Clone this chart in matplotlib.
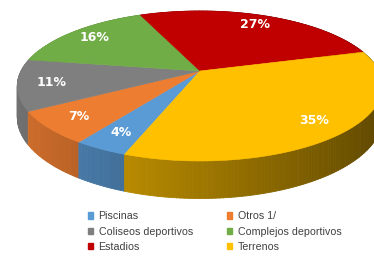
import numpy as np
import matplotlib
matplotlib.use("Agg")
import matplotlib.pyplot as plt
import matplotlib.patches as mpatches
from matplotlib.collections import PolyCollection

labels = ["Piscinas", "Otros 1/", "Coliseos deportivos", "Complejos deportivos", "Estadios", "Terrenos"]
shares = [4, 7, 11, 16, 27, 35]
colors = ["#5B9BD5", "#ED7D31", "#7F7F7F", "#70AD47", "#C00000", "#FFC000"]

# simple perspective camera for the 3-D disc (screen pixels)
CX, CY = 200, 71      # apex of the pie on screen
RX, RY = 179, 72      # half width / half height of the top face
F = 5.0               # perspective strength
DEPTH = 30            # thickness


def proj(u, v, h=0.0):
    s = F / (F + v)
    return CX + RX * u * s, CY - RY * v * s + DEPTH * h * s


def shade(hex_color, u):
    # lighter on the left, darker on the right like the Excel bevel
    f = 0.625 - 0.279 * u
    rgb = np.array(matplotlib.colors.to_rgb(hex_color))
    return tuple(np.clip(rgb * f, 0, 1))


fig = plt.figure(figsize=(3.74, 2.59), dpi=100)
ax = fig.add_axes([0, 0, 1, 1])

wedges, _, autotexts = ax.pie(shares, colors=colors, startangle=-110, counterclock=False,
                              autopct=lambda p: f"{p:.0f}%", pctdistance=0.82,
                              textprops=dict(color="white", fontsize=9, fontweight="bold"),
                              wedgeprops=dict(linewidth=0), radius=1)

sides = []
for w, c in zip(wedges, colors):
    ts = np.radians(np.linspace(w.theta1, w.theta2, max(int(w.theta2 - w.theta1), 2) + 1))
    u, v = np.cos(ts), np.sin(ts)
    # top face of the slice
    xs, ys = proj(np.r_[0, u], np.r_[0, v])
    ax.fill(xs, ys, color=c, ec=c, lw=0.4, zorder=2)
    # side strips
    for i in range(len(ts) - 1):
        x0, y0 = proj(u[i], v[i])
        x1, y1 = proj(u[i + 1], v[i + 1])
        x2, y2 = proj(u[i + 1], v[i + 1], 1)
        x3, y3 = proj(u[i], v[i], 1)
        um, vm = (u[i] + u[i + 1]) / 2, (v[i] + v[i + 1]) / 2
        sides.append((vm, [(x0, y0), (x1, y1), (x2, y2), (x3, y3)], shade(c, um)))
    w.remove()

sides.sort(key=lambda s: -s[0])
ax.add_collection(PolyCollection([s[1] for s in sides], facecolors=[s[2] for s in sides],
                                 edgecolors=[s[2] for s in sides], linewidths=0.6, zorder=1))

for t in autotexts:
    x, y = t.get_position()
    t.set_position(proj(x, y))
    t.set_zorder(3)

ax.set_aspect("auto")
ax.set_xlim(0, 374)
ax.set_ylim(259, 0)
ax.axis("off")

handles = [mpatches.Patch(color=c, label=l) for c, l in zip(colors, labels)]
order = [0, 2, 4, 1, 3, 5]
fig.legend([handles[i] for i in order], [labels[i] for i in order], ncol=2,
           loc="upper left", bbox_to_anchor=(0.235, 0.184), frameon=False,
           prop=dict(family="Liberation Sans", size=7.7), labelcolor="#404040",
           handlelength=0.5, handleheight=0.5, handletextpad=0.5,
           columnspacing=3.2, labelspacing=0.5, borderpad=0, borderaxespad=0)

fig.savefig("out.png", dpi=100, facecolor="white")
